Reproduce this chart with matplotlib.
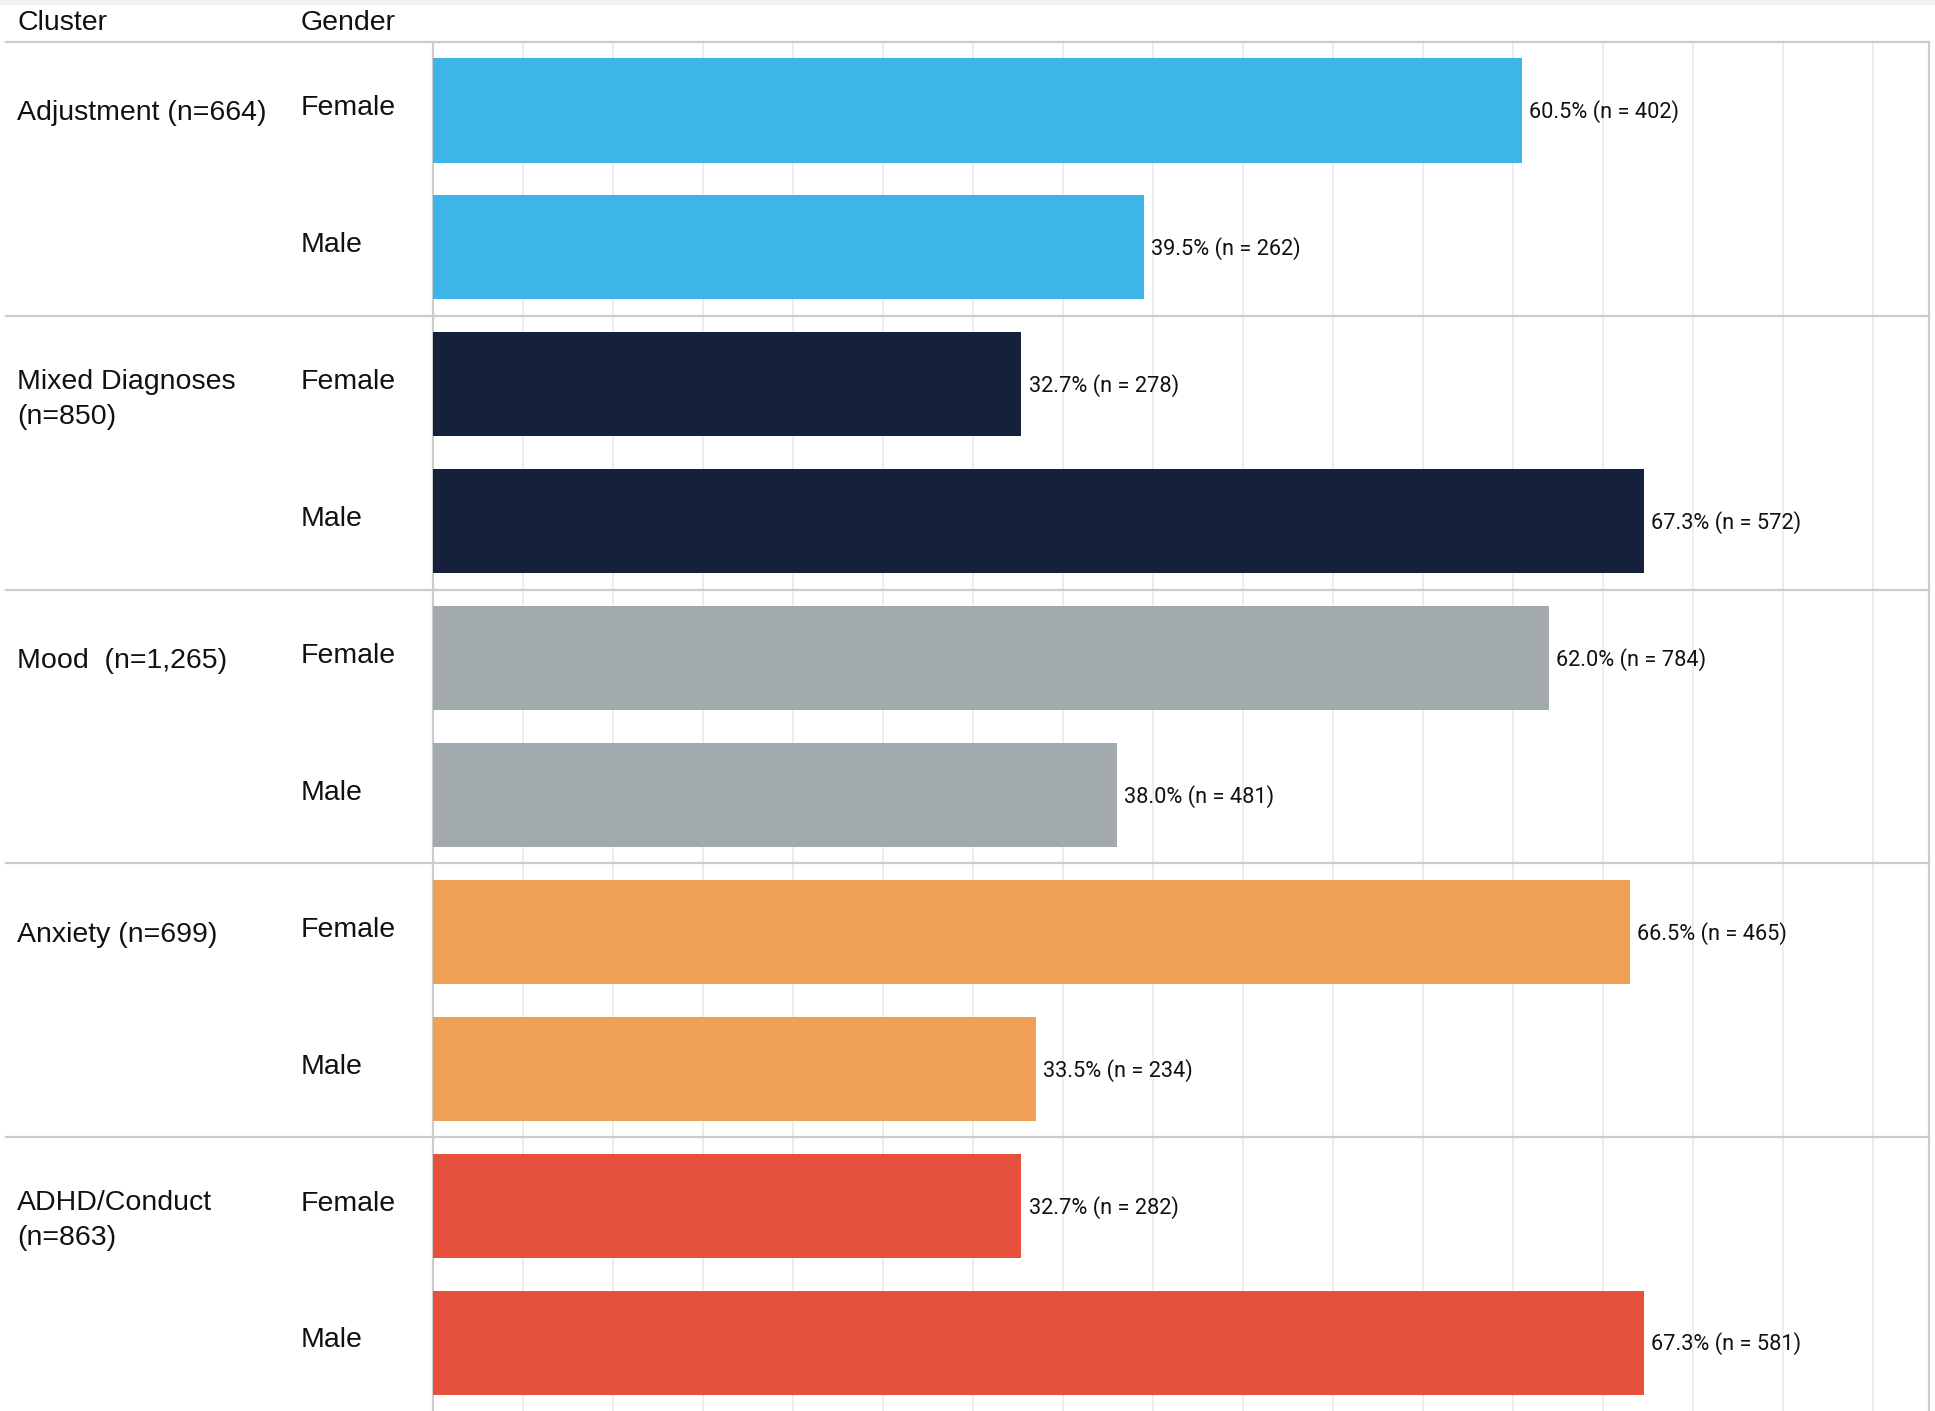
import numpy as np
import matplotlib.pyplot as plt
from matplotlib.patches import Rectangle

clusters = ["Adjustment (n=664)", "Mixed Diagnoses\n(n=850)", "Mood  (n=1,265)",
            "Anxiety (n=699)", "ADHD/Conduct\n(n=863)"]
genders = ["Female", "Male"]
female_pct = [60.5, 32.7, 62.0, 66.5, 32.7]
male_pct = [39.5, 67.3, 38.0, 33.5, 67.3]
female_n = [402, 278, 784, 465, 282]
male_n = [262, 572, 481, 234, 581]
colors = ["#3DB5E6", "#15203A", "#A3AAAD", "#EFA054", "#E6513E"]

plt.rcParams['font.family'] = ['Liberation Sans', 'DejaVu Sans']
val_font = ['Roboto', 'DejaVu Sans']

fig = plt.figure(figsize=(19.35, 14.11), dpi=100)
ax_left, ax_top, ax_w = 0.2238, 0.9702, 0.7731
ax = fig.add_axes([ax_left, 0, ax_w, ax_top])

grid_c = "#cccccc"
for i in range(len(clusters)):
    for j, (pct, n) in enumerate([(female_pct, female_n), (male_pct, male_n)]):
        y = 2 * i + j + 0.5
        ax.barh(y, pct[i], height=0.76, color=colors[i], zorder=3)
        ax.text(pct[i] + 0.4, y + 0.01, f"{pct[i]:.1f}% (n = {n[i]})", va='center',
                ha='left', fontsize=15.7, color='#111111', zorder=4, family=val_font)
        ax.text(-0.0882, y - 0.015, genders[j], transform=ax.get_yaxis_transform(),
                va='center', ha='left', fontsize=20.5, color='#111111')
    # two-line labels sit a little higher than single-line ones
    off = 0.115 if '\n' in clusters[i] else 0.075
    ax.text(-0.2781, 2 * i + 0.5 - off, clusters[i], transform=ax.get_yaxis_transform(),
            va='top', ha='left', fontsize=20.5, color='#111111', linespacing=1.45)
    if i > 0:
        ax.plot([-0.2855, 1], [2 * i, 2 * i], transform=ax.get_yaxis_transform(),
                color=grid_c, lw=1.6, clip_on=False, zorder=5)

ax.set_xlim(0, 83.13)
ax.set_ylim(10, 0)
ax.set_xticks(np.arange(5, 81, 5))
ax.set_yticks([])
ax.grid(axis='x', color='#ececec', lw=1.3, zorder=0)
ax.tick_params(axis='x', length=0, labelbottom=False)
for s in ['left', 'right']:
    ax.spines[s].set_color(grid_c)
    ax.spines[s].set_linewidth(1.6)
ax.spines['top'].set_visible(False)
ax.spines['bottom'].set_visible(False)

# header row
ax.plot([-0.2855, 1], [0, 0], transform=ax.get_yaxis_transform(),
        color=grid_c, lw=1.6, clip_on=False, zorder=5)
fig.add_artist(Rectangle((0, 0.9965), 1, 0.0035, transform=fig.transFigure,
                         color='#f2f2f2', lw=0))
fig.text(0.0088, 0.9835, "Cluster", va='center', ha='left', fontsize=20.5, color='#111111')
fig.text(0.1556, 0.9835, "Gender", va='center', ha='left', fontsize=20.5, color='#111111')

fig.savefig("out.png", dpi=100)
